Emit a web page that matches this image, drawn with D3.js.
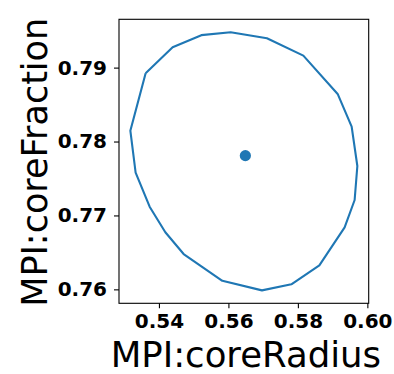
<!DOCTYPE html>
<html>
<head>
<meta charset="utf-8">
<script src="https://cdn.jsdelivr.net/npm/d3@7"></script>
<style>
  html, body { margin: 0; padding: 0; background: #fff; }
  svg { display: block; }
</style>
</head>
<body>
<svg id="chart" width="394" height="374"></svg>
<script>
// Contour polygon (closed) in data coordinates
const contourX = [0.53617, 0.53177, 0.53329, 0.53732, 0.54184, 0.54711, 0.55825, 0.56966,
                  0.57812, 0.58618, 0.59346, 0.59634, 0.59712, 0.59548, 0.59145, 0.58157,
                  0.57109, 0.56064, 0.55221, 0.54394, 0.53617];
const contourY = [0.78924, 0.78147, 0.77579, 0.77118, 0.76772, 0.76478, 0.76116, 0.75986,
                  0.76068, 0.76325, 0.76839, 0.77209, 0.77669, 0.78201, 0.78644, 0.79162,
                  0.79398, 0.79479, 0.79439, 0.79276, 0.78924];
// Center point
const centerX = [0.56488];
const centerY = [0.77809];
// Tick labels
const xTicks = [0.54, 0.56, 0.58, 0.60];
const yTicks = [0.76, 0.77, 0.78, 0.79];
const xLabel = "MPI:coreRadius";
const yLabel = "MPI:coreFraction";

const svg = d3.select("#chart");
const pLeft = 119, pRight = 368.7, pTop = 19.3, pBottom = 303.3;

function padded(vals) {
  const lo = d3.min(vals), hi = d3.max(vals), p = (hi - lo) * 0.05;
  return [lo - p, hi + p];
}
const x = d3.scaleLinear().domain(padded(contourX.concat(centerX))).range([pLeft, pRight]);
const y = d3.scaleLinear().domain(padded(contourY.concat(centerY))).range([pBottom, pTop]);

const pts = contourX.map((v, i) => [v, contourY[i]]);
const line = d3.line().x(d => x(d[0])).y(d => y(d[1]));

svg.append("path")
  .attr("d", line(pts))
  .attr("fill", "none")
  .attr("stroke", "#1f77b4")
  .attr("stroke-width", 2.1)
  .attr("stroke-linejoin", "round");

svg.selectAll("circle.c").data(centerX).enter().append("circle")
  .attr("cx", d => x(d))
  .attr("cy", (d, i) => y(centerY[i]))
  .attr("r", 5.6)
  .attr("fill", "#1f77b4");

// Frame
svg.append("rect")
  .attr("x", pLeft).attr("y", pTop)
  .attr("width", pRight - pLeft).attr("height", pBottom - pTop)
  .attr("fill", "none").attr("stroke", "#000").attr("stroke-width", 1.1);

const tickFont = "'DejaVu Sans', sans-serif";
// X axis
const xAxis = d3.axisBottom(x).tickValues(xTicks).tickFormat(d3.format(".2f")).tickSize(5).tickPadding(6);
const gx = svg.append("g").attr("transform", `translate(0,${pBottom})`).call(xAxis);
gx.select(".domain").remove();
gx.selectAll("line").attr("stroke", "#000").attr("stroke-width", 1.1);
gx.selectAll("text").attr("font-family", tickFont).attr("font-weight", "bold")
  .attr("font-size", 20).attr("fill", "#000");

// Y axis
const yAxis = d3.axisLeft(y).tickValues(yTicks).tickFormat(d3.format(".2f")).tickSize(5).tickPadding(7);
const gy = svg.append("g").attr("transform", `translate(${pLeft},0)`).call(yAxis);
gy.select(".domain").remove();
gy.selectAll("line").attr("stroke", "#000").attr("stroke-width", 1.1);
gy.selectAll("text").attr("font-family", tickFont).attr("font-weight", "bold")
  .attr("font-size", 20).attr("fill", "#000");

// Axis labels
svg.append("text")
  .attr("x", (pLeft + pRight) / 2 + 2).attr("y", 367)
  .attr("text-anchor", "middle")
  .attr("font-family", tickFont).attr("font-size", 35.5).attr("fill", "#000")
  .text(xLabel);

svg.append("text")
  .attr("transform", `translate(46.5,${(pTop + pBottom) / 2 + 1}) rotate(-90)`)
  .attr("text-anchor", "middle")
  .attr("font-family", tickFont).attr("font-size", 35).attr("fill", "#000")
  .text(yLabel);
</script>
</body>
</html>
